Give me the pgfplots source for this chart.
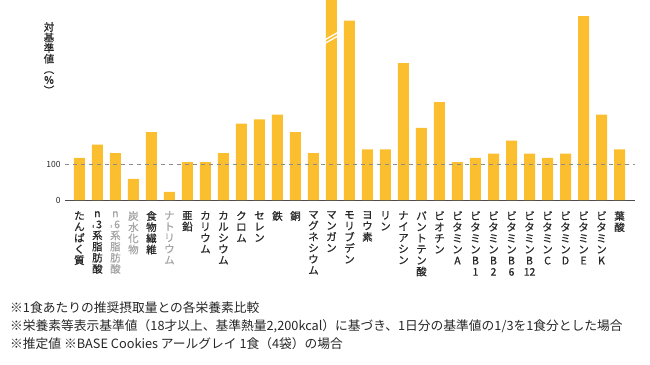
\documentclass[border=0pt]{standalone}
\usepackage{fontspec}
\setmainfont{Noto Sans CJK JP}
\newfontfamily\labfont{Noto Sans CJK JP}[FakeBold=0.8]
\usepackage{pgfplots}
\pgfplotsset{compat=1.18}
\definecolor{baryellow}{RGB}{251,190,46}
\definecolor{labdark}{RGB}{40,40,40}
\definecolor{labgray}{RGB}{165,165,165}
\newcommand{\g}[1]{\textcolor{labgray}{#1}}
\begin{document}
\begin{tikzpicture}[x=1bp,y=1bp]
\useasboundingbox (0,0) rectangle (650,364);
\begin{axis}[
  at={(65bp,164bp)}, anchor=south west,
  scale only axis, width=570bp, height=200bp,
  xmin=-0.8, xmax=30.86, ymin=0, ymax=560,
  axis x line*=bottom, axis y line*=left,
  y axis line style={draw=none},
  x axis line style={-, draw=black!70, line width=1bp},
  major tick length=0pt,
  ytick={0,100},
  yticklabel style={font=\fontsize{8.5}{9}\selectfont, text=labdark, xshift=-1bp},
  /pgf/number format/assume math mode=true,
  xtick={0,...,30},
  xticklabel style={anchor=north, align=center, yshift=-11bp, text=labdark,
    font=\labfont\fontsize{10.5}{11.2}\selectfont, inner sep=0pt},
  xticklabels={
    {た\\ん\\ぱ\\く\\質},
    {n\\\rotatebox{90}{-}3\\系\\脂\\肪\\酸},
    {\g{n}\\\g{\rotatebox{90}{-}6}\\\g{系}\\\g{脂}\\\g{肪}\\\g{酸}},
    {\g{炭}\\\g{水}\\\g{化}\\\g{物}},
    {食\\物\\繊\\維},
    {\g{ナ}\\\g{ト}\\\g{リ}\\\g{ウ}\\\g{ム}},
    {亜\\鉛},
    {カ\\リ\\ウ\\ム},
    {カ\\ル\\シ\\ウ\\ム},
    {ク\\ロ\\ム},
    {セ\\レ\\ン},
    {鉄},
    {銅},
    {マ\\グ\\ネ\\シ\\ウ\\ム},
    {マ\\ン\\ガ\\ン},
    {モ\\リ\\ブ\\デ\\ン},
    {ヨ\\ウ\\素},
    {リ\\ン},
    {ナ\\イ\\ア\\シ\\ン},
    {パ\\ン\\ト\\テ\\ン\\酸},
    {ビ\\オ\\チ\\ン},
    {ビ\\タ\\ミ\\ン\\A},
    {ビ\\タ\\ミ\\ン\\B\\1},
    {ビ\\タ\\ミ\\ン\\B\\2},
    {ビ\\タ\\ミ\\ン\\B\\6},
    {ビ\\タ\\ミ\\ン\\B\\12},
    {ビ\\タ\\ミ\\ン\\C},
    {ビ\\タ\\ミ\\ン\\D},
    {ビ\\タ\\ミ\\ン\\E},
    {ビ\\タ\\ミ\\ン\\K},
    {葉\\酸}
  },
  clip=true,
]
\addplot[ybar, bar width=11bp, fill=baryellow, draw=none] coordinates {
  (0,118) (1,155) (2,131) (3,59) (4,190) (5,23) (6,106) (7,106) (8,131)
  (9,214) (10,226) (11,239) (12,190) (13,131) (14,600) (15,502) (16,142)
  (17,142) (18,383) (19,202) (20,274) (21,106) (22,118) (23,130) (24,166)
  (25,130) (26,118) (27,130) (28,515) (29,239) (30,142)
};
\draw[black!45, dashed, dash pattern=on 4bp off 4bp, line width=0.8bp]
  (axis cs:-0.8,100) -- (axis cs:30.86,100);
\draw[white, line width=1.3bp] (axis cs:13.55,436) -- (axis cs:14.45,462);
\draw[white, line width=1.3bp] (axis cs:13.55,446) -- (axis cs:14.45,472);
\end{axis}
\node[align=center, text=labdark, font=\labfont\fontsize{10.5}{10.6}\selectfont, inner sep=0pt, anchor=north]
  at (49,342) {対\\基\\準\\値\\︵\\\%\\︶};
\begin{scope}[every node/.style={anchor=base west, inner sep=0pt, text=black!85,
   font=\fontsize{12.8}{13}\selectfont}]
\node at (10,52) {※1食あたりの推奨摂取量との各栄養素比較};
\node at (10,34) {※栄養素等表示基準値（18才以上、基準熱量2,200kcal）に基づき、1日分の基準値の1/3を1食分とした場合};
\node at (10,16) {※推定値 ※BASE Cookies アールグレイ 1食（4袋）の場合};
\end{scope}
\end{tikzpicture}
\end{document}
